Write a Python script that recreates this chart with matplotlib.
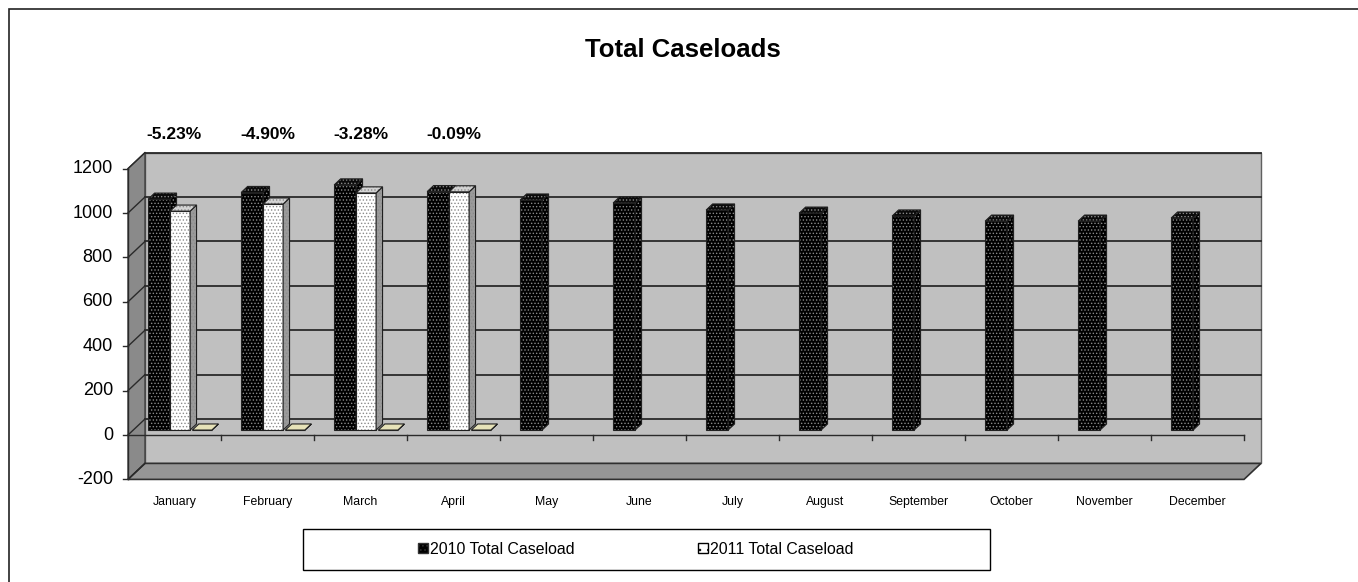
import matplotlib
matplotlib.use('Agg')
import matplotlib.pyplot as plt
from matplotlib import font_manager
from matplotlib.patches import Polygon, Rectangle, Patch

# narrow font if there is one, else plain Liberation Sans with smaller sizes
names = {f.name for f in font_manager.fontManager.ttflist}
NARROW = 'Liberation Sans Narrow' in names
if NARROW:
    plt.rcParams['font.family'] = ['Liberation Sans Narrow', 'DejaVu Sans']
    fs = dict(title=22, ytick=14.5, month=10, pct=14.5, legend=13)
else:
    plt.rcParams['font.family'] = ['Liberation Sans', 'DejaVu Sans']
    fs = dict(title=18.5, ytick=13, month=8.8, pct=12.5, legend=11.4)
plt.rcParams['hatch.linewidth'] = 0.6

months = ['January', 'February', 'March', 'April', 'May', 'June', 'July',
          'August', 'September', 'October', 'November', 'December']
cases_2010 = [1040, 1070, 1104, 1074, 1036, 1023, 991, 977, 964, 941, 941, 955]
cases_2011 = [986, 1018, 1068, 1073]
pct_change = [-5.23, -4.90, -3.28, -0.09]
pct_labels = ['-5.23%', '-4.90%', '-3.28%', '-0.09%']
y_ticks = [-200, 0, 200, 400, 600, 800, 1000, 1200]

W, H = 1358, 582
fig = plt.figure(figsize=(W / 100, H / 100), dpi=100)
ax = fig.add_axes([0, 0, 1, 1])

# one category = 93 px, 1 unit = 0.222 px, category 0 centred at x=174.5, value 0 at y=435
PX_CAT = 93.0
PX_VAL = 0.222
ax.set_xlim((0 - 174.5) / PX_CAT, (W - 174.5) / PX_CAT)
ax.set_ylim((435 - H) / PX_VAL, 435 / PX_VAL)
ax.axis('off')

DX = 17 / PX_CAT   # depth of the "3d" box
DY = 16 / PX_VAL
ymin, ymax = y_ticks[0], y_ticks[-1]
x_left, x_right = -0.5, len(months) - 0.5

# walls and floor
ax.add_patch(Polygon([(x_left + DX, ymin + DY), (x_right + DX, ymin + DY),
                      (x_right + DX, ymax + DY), (x_left + DX, ymax + DY)],
                     facecolor='#c0c0c0', edgecolor='#606060', lw=1, zorder=1))
ax.add_patch(Polygon([(x_left, ymin), (x_left + DX, ymin + DY),
                      (x_left + DX, ymax + DY), (x_left, ymax)],
                     facecolor='#8a8a8a', edgecolor='#404040', lw=1, zorder=1))
ax.add_patch(Polygon([(x_left, ymin), (x_right, ymin),
                      (x_right + DX, ymin + DY), (x_left + DX, ymin + DY)],
                     facecolor='#969696', edgecolor='#303030', lw=1.2, zorder=1))

# gridlines on the back wall + side wall, y ticks
for v in y_ticks:
    if v > ymin:
        ax.plot([x_left + DX, x_right + DX], [v + DY, v + DY], color='#2a2a2a', lw=1.3, zorder=2)
    ax.plot([x_left, x_left + DX], [v, v + DY], color='#2a2a2a', lw=1, zorder=2)
    ax.plot([x_left - 5 / PX_CAT, x_left], [v, v], color='#2a2a2a', lw=1, zorder=2)
    ax.text(x_left - 15 / PX_CAT, v, str(v), ha='right', va='center', fontsize=fs['ytick'])
ax.plot([x_left, x_left], [ymin, ymax], color='#2a2a2a', lw=1, zorder=2)

# category axis at 0 on the front plane
ax.plot([x_left, x_right], [0, 0], color='#2a2a2a', lw=1, zorder=20)
for k in range(len(months)):
    ax.plot([k + 0.5, k + 0.5], [0, -5 / PX_VAL], color='#2a2a2a', lw=1, zorder=20)
for i, m in enumerate(months):
    ax.text(i, -300, m, ha='center', va='center', fontsize=fs['month'])

D0 = 0.31   # front face depth of the bars
T = 0.38    # bar thickness


def bar3d(x0, w, v, face, side, top, dots, z):
    ox, oy = D0 * DX, D0 * DY
    tx, ty = T * DX, T * DY
    faces = [
        ([(x0, 0), (x0 + w, 0), (x0 + w, v), (x0, v)], face),
        ([(x0 + w, 0), (x0 + w + tx, ty), (x0 + w + tx, v + ty), (x0 + w, v)], side),
        ([(x0, v), (x0 + w, v), (x0 + w + tx, v + ty), (x0 + tx, v + ty)], top),
    ]
    for pts, col in faces:
        pts = [(px + ox, py + oy) for px, py in pts]
        ax.add_patch(Polygon(pts, facecolor=col, edgecolor=dots, hatch='.....', lw=0, zorder=z))
        ax.add_patch(Polygon(pts, fill=False, edgecolor='#202020', lw=0.8, zorder=z))


for i, v in enumerate(cases_2010):
    bar3d(i - 0.34, 0.236, v, '#000000', '#000000', '#0a0a0a', '#8a8a8a', 10 + 3 * i)
for i, v in enumerate(cases_2011):
    bar3d(i - 0.104, 0.215, v, '#ffffff', '#9a9a9a', '#d4d4d4', '#8a8a8a', 11 + 3 * i)
for i, p in enumerate(pct_change):
    bar3d(i + 0.135, 0.21, p / 100, '#e6e2b8', '#e6e2b8', '#e6e2b8', '#e6e2b8', 12 + 3 * i)

for i, lab in enumerate(pct_labels):
    ax.text(i, 1353, lab, ha='center', va='center', fontsize=fs['pct'], fontweight='bold')

fig.text(683 / W, 1 - 50 / H, 'Total Caseloads', ha='center', va='center',
         fontsize=fs['title'], fontweight='bold')

# legend box
fig.add_artist(Rectangle((303 / W, 1 - 570 / H), 687 / W, 41 / H, transform=fig.transFigure,
                         facecolor='white', edgecolor='black', lw=1))
handles = [Patch(facecolor='black', edgecolor='#333333', hatch='....'),
           Patch(facecolor='white', edgecolor='black', hatch='..')]
fig.legend(handles, ['2010 Total Caseload', '2011 Total Caseload'], loc='center',
           bbox_to_anchor=(636 / W, 1 - 549 / H), ncol=2, frameon=False, fontsize=fs['legend'],
           handlelength=0.6, handleheight=0.6, handletextpad=0.15,
           columnspacing=7.8 * fs['legend'] / 11.4 * (0.82 if NARROW else 1))

# outer frame: top and left edges only
fig.add_artist(Rectangle((9 / W, -0.1), 1.2, 1.1 - 9 / H, transform=fig.transFigure,
                         fill=False, edgecolor='#222222', lw=1.2))

fig.savefig('out.png', dpi=100)
